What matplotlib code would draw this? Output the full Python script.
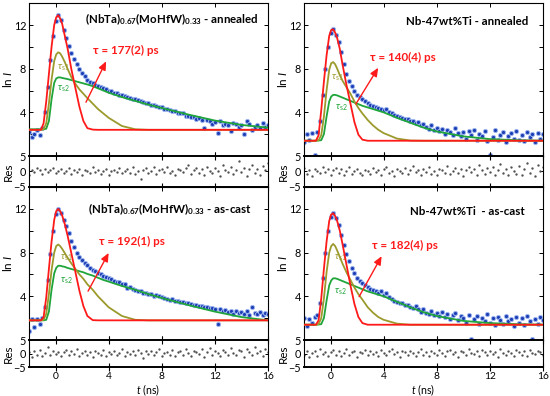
import matplotlib
matplotlib.use("Agg")
import matplotlib.pyplot as plt
from matplotlib.ticker import MultipleLocator
import numpy as np

# -- Data ---------------------------------------------------------------------

# measured channels, ns
T_DATA = np.round(np.arange(-2.0, 16.01, 0.2), 1)
# fit curve sample times, ns
T_FIT = [-2.0, -1.1, -0.9, -0.7, -0.5, -0.3, -0.1, 0.05, 0.2, 0.35,
         0.5, 0.7, 0.9, 1.2, 1.5, 1.8, 2.1, 2.4, 2.8, 3.2,
         3.6, 4.0, 5.0, 6.0, 7.0, 8.0, 10.0, 12.0, 14.0, 16.0]

TITLES = [r"(NbTa)$_{\mathbf{0.67}}$(MoHfW)$_{\mathbf{0.33}}$ - annealed",
          "Nb-47wt%Ti - annealed",
          r"(NbTa)$_{\mathbf{0.67}}$(MoHfW)$_{\mathbf{0.33}}$ - as-cast",
          "Nb-47wt%Ti  - as-cast"]
TAUS = ["τ = 177(2) ps", "τ = 140(4) ps", "τ = 192(1) ps", "τ = 182(4) ps"]

# top-left: (NbTa)0.67(MoHfW)0.33 annealed
DATA_TL = [2.2, 1.7, 2.0, 2.4, 1.9, 2.6, 4.0, 6.3, 8.8, 11.0,
           12.4, 12.9, 12.5, 11.5, 10.8, 10.1, 9.4, 8.9, 8.4, 8.0,
           7.6, 7.3, 7.0, 6.8, 6.7, 6.55, 6.45, 6.35, 6.25, 6.1,
           6.0, 5.95, 5.8, 5.8, 5.6, 5.55, 5.5, 5.4, 5.3, 5.25,
           5.2, 5.1, 5.0, 4.95, 4.85, 4.9, 4.7, 4.65, 4.6, 4.5,
           4.5, 4.35, 4.3, 4.25, 4.1, 4.1, 3.95, 3.9, 3.9, 3.7,
           3.7, 3.6, 3.55, 3.4, 3.5, 3.3, 2.6, 3.3, 3.2, 2.9,
           3.1, 2.1, 3.2, 2.8, 2.9, 2.8, 2.3, 3.0, 2.9, 2.7,
           2.8, 2.0, 3.2, 2.9, 2.4, 2.7, 2.8, 2.6, 3.0, 2.7, 2.8]
RED_TL = [2.4, 2.4, 3.0, 5.0, 7.5, 10.0, 12.0, 12.7, 12.9, 12.6,
          12.1, 11.0, 9.9, 7.9, 6.2, 4.5, 3.2, 2.55, 2.42, 2.4,
          2.4, 2.4, 2.4, 2.4, 2.4, 2.4, 2.4, 2.4, 2.4, 2.4]
OLIVE_TL = [2.4, 2.4, 2.45, 3.0, 4.8, 7.0, 8.7, 9.3, 9.5, 9.4,
            9.1, 8.6, 8.0, 7.2, 6.6, 6.1, 5.7, 5.3, 4.8, 4.3,
            3.9, 3.5, 2.75, 2.45, 2.4, 2.4, 2.4, 2.4, 2.4, 2.4]
GREEN_TL = [2.45, 2.45, 2.45, 2.5, 3.2, 5.2, 6.7, 7.1, 7.2, 7.2,
            7.15, 7.1, 7.05, 6.95, 6.85, 6.75, 6.65, 6.55, 6.4, 6.2,
            6.0, 5.8, 5.4, 5.05, 4.7, 4.4, 3.8, 3.25, 2.85, 2.6]
RES_TL = [-1.0, 0.6, -0.3, 1.2, 0.4, -0.8, 0.9, -0.2, 0.5, 1.1,
          -0.4, 0.3, 0.8, -0.6, 0.2, 1.0, -0.9, 0.4, -0.1, 0.7,
          -1.3, 0.5, 0.1, -0.5, 1.4, -0.2, 0.6, -0.7, 0.3, 0.9,
          -1.1, 0.2, 0.5, -0.3, 1.2, -0.6, 0.1, 0.8, -0.4, 1.5,
          -0.9, 0.3, -2.3, 0.6, 1.0, -0.5, 0.2, 1.3, -0.8, 0.4,
          0.7, -0.2, 1.6, -0.6, 0.3, -1.2, 0.9, 0.5, -0.3, 1.1,
          2.0, -0.7, 0.4, 1.2, -0.4, 0.8, -1.0, 1.5, 0.2, -0.6,
          1.0, 0.3, -1.4, 2.2, 0.6, -0.2, 1.3, -0.9, 0.5, 3.4,
          -0.3, 1.1, -1.6, 0.7, 2.1, -0.5, 0.9, -1.1, 1.8, 0.4, 2.6]

# top-right: Nb-47wt%Ti annealed
DATA_TR = [1.3, 2.0, 1.5, 2.1, 0.1, 2.2, 3.2, 5.6, 8.0, 10.0,
           11.3, 11.6, 11.1, 10.4, 9.5, 8.4, 7.5, 6.9, 6.4, 6.0,
           5.6, 5.4, 5.2, 5.0, 4.85, 4.7, 4.6, 4.5, 4.4, 4.3,
           4.2, 4.3, 4.0, 3.9, 3.8, 3.7, 3.6, 3.5, 3.4, 3.35,
           3.2, 3.2, 3.0, 3.1, 2.8, 2.9, 2.7, 2.5, 2.8, 2.4,
           2.6, 2.3, 2.5, 2.0, 2.4, 2.2, 1.9, 2.6, 2.1, 1.8,
           2.2, 1.6, 2.3, 1.9, 2.4, 1.5, 2.0, 1.8, 2.3, 1.4,
           0.1, 1.7, 2.4, 1.5, 1.9, 2.2, 1.3, 1.8, 2.1, 1.6,
           2.3, 1.5, 1.9, 1.4, 2.2, 1.7, 2.0, 1.3, 2.1, 1.6, 2.0]
RED_TR = [1.4, 1.4, 1.9, 4.2, 6.8, 9.2, 11.0, 11.55, 11.6, 11.3,
          10.8, 9.8, 8.4, 6.5, 4.8, 3.1, 1.95, 1.5, 1.4, 1.4,
          1.4, 1.4, 1.4, 1.4, 1.4, 1.4, 1.4, 1.4, 1.4, 1.4]
OLIVE_TR = [1.4, 1.4, 1.45, 1.9, 3.6, 6.0, 7.9, 8.5, 8.6, 8.4,
            8.0, 7.4, 6.9, 6.3, 5.7, 5.0, 4.4, 3.9, 3.3, 2.8,
            2.4, 2.1, 1.6, 1.42, 1.4, 1.4, 1.4, 1.4, 1.4, 1.4]
GREEN_TR = [1.4, 1.4, 1.42, 1.45, 2.0, 3.6, 5.0, 5.45, 5.6, 5.6,
            5.55, 5.45, 5.35, 5.2, 5.05, 4.9, 4.75, 4.6, 4.45, 4.3,
            4.15, 4.0, 3.5, 3.05, 2.6, 2.25, 1.8, 1.55, 1.45, 1.4]
RES_TR = [1.2, -0.8, 0.5, -1.5, 0.9, 0.2, -0.6, 1.4, -0.3, 0.7,
          -1.0, 0.4, 1.1, -0.5, 0.8, -1.2, 0.3, 1.6, -0.7, 0.1,
          0.9, -0.4, -1.3, 0.6, 0.2, -0.9, 1.0, -0.2, 0.5, -1.1,
          0.7, 1.3, -0.6, 0.3, -1.4, 0.8, 0.1, -0.5, 1.2, -0.8,
          0.4, 1.7, -0.3, 0.6, -1.0, 0.9, -0.2, 1.5, -0.7, 0.3,
          -1.2, 0.8, 0.5, -0.4, 1.9, -0.9, 0.2, 1.1, -0.6, 0.7,
          -1.6, 0.4, 1.3, -0.3, 0.9, -1.1, 2.1, 0.5, -0.8, 1.0,
          -0.2, 1.6, -1.3, 0.6, 2.4, -0.5, 0.8, -1.0, 1.4, 0.2,
          -0.7, 1.8, -1.2, 0.9, 2.6, -0.4, 1.1, -1.5, 2.0, 0.3, 1.5]

# bottom-left: (NbTa)0.67(MoHfW)0.33 as-cast
DATA_BL = [0.8, 1.9, 1.2, 1.9, 1.5, 2.0, 3.0, 5.5, 7.9, 10.0,
           11.5, 12.0, 11.6, 11.0, 10.4, 9.8, 9.1, 8.5, 8.0, 7.6,
           7.3, 7.05, 6.85, 6.6, 6.45, 6.3, 6.15, 6.05, 5.9, 5.8,
           5.65, 5.55, 5.45, 5.35, 5.3, 5.15, 5.1, 4.8, 4.9, 4.65,
           4.6, 4.5, 4.5, 4.35, 4.3, 4.2, 4.2, 4.05, 4.1, 4.0,
           3.9, 3.85, 3.8, 3.7, 3.75, 3.6, 3.55, 3.5, 3.45, 3.4,
           3.35, 3.3, 3.2, 3.25, 3.1, 3.1, 3.0, 3.05, 2.9, 2.95,
           2.85, 1.5, 2.8, 2.7, 2.75, 2.6, 2.7, 2.4, 2.65, 2.5,
           2.6, 2.4, 2.7, 2.3, 3.0, 2.5, 2.4, 2.6, 2.3, 2.5, 2.4]
RED_BL = [1.8, 1.8, 2.1, 3.9, 6.5, 9.0, 11.0, 11.8, 12.0, 11.8,
          11.4, 10.6, 9.6, 7.9, 6.2, 4.5, 3.1, 2.2, 1.82, 1.8,
          1.8, 1.8, 1.8, 1.8, 1.8, 1.8, 1.8, 1.8, 1.8, 1.8]
OLIVE_BL = [1.8, 1.8, 1.85, 2.4, 4.2, 6.4, 8.0, 8.6, 8.75, 8.6,
            8.35, 7.95, 7.55, 7.0, 6.5, 6.0, 5.6, 5.1, 4.6, 4.0,
            3.5, 3.0, 2.2, 1.85, 1.8, 1.8, 1.8, 1.8, 1.8, 1.8]
GREEN_BL = [1.8, 1.8, 1.8, 1.85, 2.6, 4.6, 6.1, 6.6, 6.8, 6.8,
            6.75, 6.7, 6.6, 6.5, 6.4, 6.3, 6.2, 6.05, 5.9, 5.7,
            5.5, 5.35, 4.95, 4.6, 4.2, 3.85, 3.2, 2.6, 2.1, 1.8]
RES_BL = [0.5, -1.2, 0.9, -0.4, 1.3, -0.8, 0.2, 2.3, -0.6, 1.0,
          -0.3, 0.7, -1.0, 0.4, 1.2, -0.5, 0.8, -0.2, 1.5, -0.9,
          0.3, 1.1, -0.7, 0.6, -1.3, 0.9, 0.1, -0.4, 1.4, -0.8,
          0.5, -0.1, 1.0, -0.6, 0.3, 1.7, -1.1, 0.6, -0.3, 0.9,
          -0.7, 1.2, 0.2, -1.5, 0.8, -0.2, 1.1, -0.5, 0.4, 1.6,
          -0.9, 0.3, 0.7, -0.4, 1.3, -1.0, 0.5, 0.9, -0.6, 1.8,
          0.2, -0.8, 1.1, 0.4, -0.3, 1.5, -1.2, 0.7, 2.0, -0.5,
          0.9, 0.3, -1.0, 1.4, 0.6, -0.7, 2.2, 0.1, -0.4, 1.2,
          0.8, -1.3, 1.7, 0.5, -0.6, 2.5, 0.3, 1.0, -0.9, 1.6, 0.7]

# bottom-right: Nb-47wt%Ti as-cast
DATA_BR = [2.0, 1.3, 1.9, 1.6, 2.1, 2.3, 3.4, 5.7, 8.0, 10.0,
           11.3, 11.6, 11.2, 10.5, 9.6, 8.7, 7.9, 7.2, 6.6, 6.1,
           5.7, 5.4, 5.2, 5.0, 4.85, 4.7, 4.55, 4.45, 4.3, 4.5,
           4.1, 4.3, 3.9, 3.75, 3.6, 3.5, 3.4, 3.35, 3.2, 3.2,
           3.0, 2.9, 3.1, 2.8, 2.6, 2.8, 2.5, 2.4, 2.7, 2.3,
           2.5, 2.2, 2.6, 2.1, 2.4, 1.9, 2.3, 2.5, 1.8, 2.2,
           2.0, 1.6, 2.3, 0.1, 1.9, 2.2, 1.5, 2.0, 1.7, 2.4,
           1.6, 2.0, 1.4, 2.1, 1.8, 1.5, 2.2, 1.7, 1.9, 1.3,
           2.1, 1.6, 2.0, 1.4, 2.2, 1.7, 0.1, 1.9, 1.5, 2.1, 1.8]
RED_BR = [1.4, 1.4, 1.8, 3.8, 6.5, 9.0, 10.9, 11.5, 11.6, 11.35,
          10.9, 10.0, 8.8, 6.9, 5.0, 3.3, 2.1, 1.55, 1.4, 1.4,
          1.4, 1.4, 1.4, 1.4, 1.4, 1.4, 1.4, 1.4, 1.4, 1.4]
OLIVE_BR = [1.4, 1.4, 1.45, 2.0, 3.8, 6.2, 8.0, 8.6, 8.8, 8.6,
            8.2, 7.6, 7.0, 6.2, 5.5, 4.8, 4.2, 3.7, 3.0, 2.5,
            2.1, 1.85, 1.5, 1.4, 1.4, 1.4, 1.4, 1.4, 1.4, 1.4]
GREEN_BR = [1.4, 1.4, 1.42, 1.45, 2.0, 3.6, 5.0, 5.45, 5.65, 5.65,
            5.6, 5.5, 5.4, 5.25, 5.1, 4.95, 4.8, 4.65, 4.45, 4.3,
            4.15, 4.0, 3.5, 3.0, 2.55, 2.2, 1.75, 1.55, 1.45, 1.4]
RES_BR = [-0.6, 1.1, -1.4, 0.3, 0.9, -0.8, 1.6, -0.2, 0.7, -1.1,
          0.5, 1.3, -0.4, 0.8, -0.9, 0.2, 1.5, -0.6, 0.4, 1.0,
          -1.2, 0.6, 0.1, 1.4, -0.5, 0.9, -0.3, 0.7, -1.0, 1.2,
          0.3, -0.7, 0.8, 1.6, -0.2, 0.5, -1.3, 1.0, 0.4, -0.6,
          1.1, 0.2, -0.9, 0.7, 1.5, -0.4, 0.6, -1.1, 0.9, 0.3,
          -0.5, 1.3, 0.1, -0.8, 0.8, 1.2, -0.3, 0.6, -1.4, 1.0,
          0.4, -0.7, 1.7, 0.2, -0.2, 0.9, -1.0, 1.4, 0.5, -0.5,
          1.1, -0.3, 0.7, -1.2, 1.6, 0.3, -0.6, 1.0, 0.2, -0.9,
          1.3, 0.5, -0.4, 0.8, -1.1, 1.2, 0.1, -0.3, 0.9, 0.4, -0.7]

# -- Style ----------------------------------------------------------------------

RED = "#ff1a1a"
OLIVE = "#9c9a2c"
GREEN = "#1fa53a"
DBLUE = "#1d3db5"
LBLUE = "#9db6ee"
GRAY = "#505050"

plt.rcParams["font.family"] = ["Lato", "DejaVu Sans"]
plt.rcParams["mathtext.fontset"] = "custom"
plt.rcParams["mathtext.rm"] = "Lato"
plt.rcParams["mathtext.it"] = "Lato:italic"
plt.rcParams["mathtext.bf"] = "Lato:bold"

FS = 7.8


def style_main(ax):
    ax.set_xlim(-2, 16)
    ax.set_ylim(0, 14)
    ax.xaxis.set_major_locator(MultipleLocator(4))
    ax.yaxis.set_minor_locator(MultipleLocator(2))
    ax.set_yticks([4, 8, 12])
    ax.tick_params(which="both", direction="in", top=True, right=True,
                   length=3, width=0.7, labelsize=FS, labelbottom=False,
                   pad=2)
    for s in ax.spines.values():
        s.set_linewidth(0.8)
    ax.set_ylabel(r"ln $\mathit{I}$", fontsize=FS + 0.6)
    ax.yaxis.set_label_coords(-0.063, 0.5)


def style_res(ax, show_xlabels):
    ax.set_xlim(-2, 16)
    ax.set_ylim(-5, 5)
    ax.set_yticks([-5, 0, 5])
    ax.xaxis.set_major_locator(MultipleLocator(4))
    ax.tick_params(axis="x", direction="inout", top=True, length=6,
                   width=0.8, labelsize=7.4, labelbottom=show_xlabels, pad=0.5)
    ax.tick_params(axis="y", direction="in", right=True, length=2.5,
                   width=0.7, labelsize=FS, pad=2)
    ax.spines["top"].set_linewidth(1.4)
    ax.spines["bottom"].set_linewidth(1.4)
    ax.spines["left"].set_linewidth(0.8)
    ax.spines["right"].set_linewidth(0.8)
    ax.set_ylabel("Res", fontsize=FS + 0.6)
    ax.yaxis.set_label_coords(-0.063, 0.5)
    if show_xlabels:
        ax.set_xlabel(r"$\mathit{t}$ (ns)", fontsize=7.6)
        ax.xaxis.set_label_coords(0.5, -0.56)


def draw_panel(ax, axr, data, red, olive, green, res, title, tau,
               title_xy, tau_xy, arrow, s1_xy, s2_xy):
    ax.plot(T_DATA, data, "o", ms=3.0, mfc=DBLUE, mec=LBLUE, mew=0.7,
            zorder=2)
    ax.plot(T_FIT, green, color=GREEN, lw=1.3, zorder=3)
    ax.plot(T_FIT, olive, color=OLIVE, lw=1.3, zorder=3)
    ax.plot(T_FIT, red, color=RED, lw=1.3, zorder=4)

    ax.text(*title_xy, title, ha="right", va="center", fontsize=8.3,
            fontweight="bold", color="black")
    ax.text(*tau_xy, tau, ha="left", va="center", fontsize=8.4,
            fontweight="bold", color=RED)
    ax.annotate("", xy=arrow[1], xytext=arrow[0],
                arrowprops=dict(arrowstyle="-|>,head_length=0.5,head_width=0.22",
                                color=RED, lw=1.0), zorder=5)
    ax.text(*s1_xy, r"$\tau_{\rm s1}$", ha="left", va="center",
            fontsize=7, color=OLIVE)
    ax.text(*s2_xy, r"$\tau_{\rm s2}$", ha="left", va="center",
            fontsize=7, color=GREEN)

    axr.plot(T_DATA, res, "o", ms=1.7, color=GRAY, mew=0)


fig = plt.figure(figsize=(5.5, 3.96), dpi=100)
fig.patch.set_facecolor("white")

W = 0.4345
X_LEFT, X_RIGHT = 0.0527, 0.5527
TOP_MAIN = (0.606, 0.386)
TOP_RES = (0.528, 0.078)
BOT_MAIN = (0.1414, 0.386)
BOT_RES = (0.0732, 0.0682)

panels = [
    (X_LEFT, TOP_MAIN, TOP_RES, False,
     DATA_TL, RED_TL, OLIVE_TL, GREEN_TL, RES_TL, TITLES[0], TAUS[0],
     (15.3, 12.5), (2.8, 9.7), ((2.2, 4.7), (3.9, 8.9)), (0.1, 8.05), (0.1, 6.2)),
    (X_RIGHT, TOP_MAIN, TOP_RES, False,
     DATA_TR, RED_TR, OLIVE_TR, GREEN_TR, RES_TR, TITLES[1], TAUS[1],
     (14.9, 12.3), (3.0, 9.05), ((1.8, 4.55), (3.7, 8.3)), (0.05, 7.2), (0.3, 4.4)),
    (X_LEFT, BOT_MAIN, BOT_RES, True,
     DATA_BL, RED_BL, OLIVE_BL, GREEN_BL, RES_BL, TITLES[2], TAUS[2],
     (14.8, 12.0), (3.3, 9.0), ((2.35, 4.25), (4.1, 8.2)), (0.3, 7.5), (0.3, 5.4)),
    (X_RIGHT, BOT_MAIN, BOT_RES, True,
     DATA_BR, RED_BR, OLIVE_BR, GREEN_BR, RES_BR, TITLES[3], TAUS[3],
     (14.6, 11.8), (3.15, 8.7), ((2.05, 3.75), (3.95, 7.9)), (0.28, 7.5), (0.28, 4.45)),
]

for (x0, mpos, rpos, xl, data, red, olive, green, res, title, tau,
     title_xy, tau_xy, arrow, s1_xy, s2_xy) in panels:
    ax = fig.add_axes([x0, mpos[0], W, mpos[1]])
    axr = fig.add_axes([x0, rpos[0], W, rpos[1]])
    style_main(ax)
    style_res(axr, xl)
    draw_panel(ax, axr, data, red, olive, green, res, title, tau,
               title_xy, tau_xy, arrow, s1_xy, s2_xy)

fig.savefig("out.png", dpi=100, facecolor="white")
